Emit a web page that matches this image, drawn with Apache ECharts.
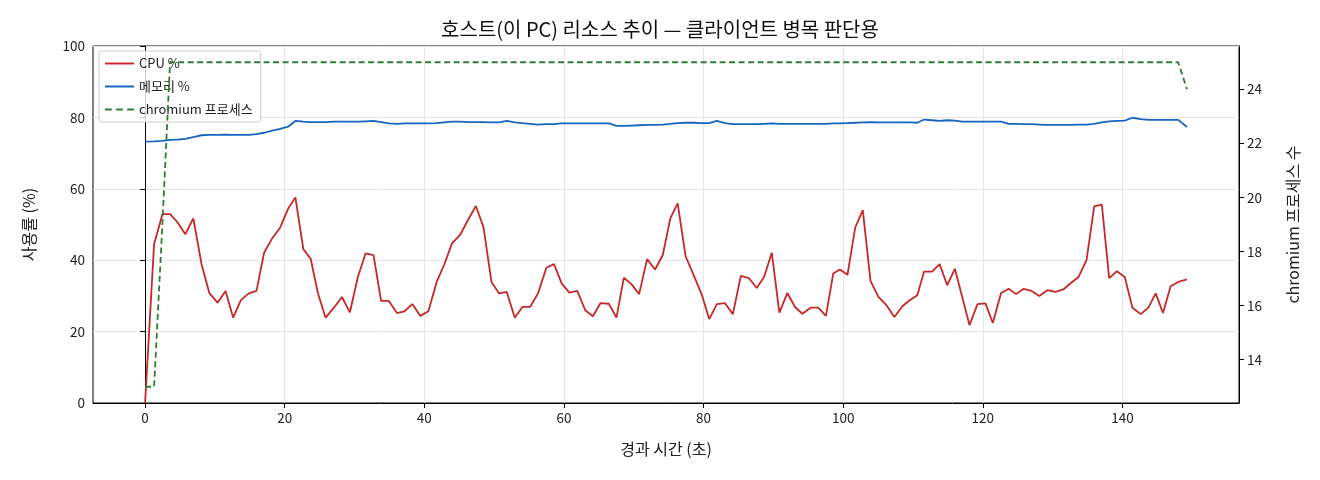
<!DOCTYPE html>
<html>
<head>
<meta charset="utf-8">
<script src="https://cdn.jsdelivr.net/npm/echarts@6/dist/echarts.min.js"></script>
<style>
  html, body { margin: 0; padding: 0; background: #fff; }
  #chart { width: 1320px; height: 480px; }
</style>
</head>
<body>
<div id="chart"></div>
<script>
// elapsed time (s) of each sample
const times = [
  0, 1.29, 2.48, 3.58, 4.62, 5.77, 6.91, 8.10, 9.20, 10.39,
  11.53, 12.62, 13.72, 14.86, 15.96, 17.05, 18.20, 19.34, 20.48, 21.53,
  22.67, 23.72, 24.77, 25.86, 27.05, 28.20, 29.34, 30.48, 31.58, 32.72,
  33.81, 34.91, 36.10, 37.15, 38.29, 39.43, 40.58, 41.77, 42.86, 43.96,
  45.10, 46.29, 47.39, 48.48, 49.62, 50.72, 51.81, 52.96, 54.05, 55.15,
  56.29, 57.48, 58.58, 59.67, 60.77, 61.91, 63.05, 64.15, 65.24, 66.43,
  67.53, 68.58, 69.67, 70.77, 71.91, 73.05, 74.15, 75.24, 76.29, 77.43,
  78.58, 79.77, 80.81, 81.91, 83.05, 84.20, 85.34, 86.48, 87.62, 88.67,
  89.77, 90.86, 92.00, 93.10, 94.15, 95.34, 96.43, 97.53, 98.58, 99.53,
  100.62, 101.72, 102.81, 103.91, 105.05, 106.20, 107.34, 108.48, 109.53, 110.62,
  111.58, 112.72, 113.81, 114.91, 116.00, 117.05, 118.10, 119.24, 120.39, 121.43,
  122.62, 123.72, 124.77, 125.86, 127.00, 128.10, 129.24, 130.39, 131.53, 132.62,
  133.72, 134.86, 135.96, 137.05, 138.10, 139.20, 140.34, 141.43, 142.62, 143.72,
  144.77, 145.81, 146.91, 148.00, 149.24
];

const cpuPct = [
  0, 44.5, 52.9, 52.9, 50.7, 47.3, 51.7, 38.8, 30.8, 28.1,
  31.4, 23.9, 28.8, 30.7, 31.4, 42.1, 46.1, 49.1, 54.4, 57.6,
  43.1, 40.4, 30.7, 23.9, 26.7, 29.7, 25.4, 35.3, 41.9, 41.4,
  28.6, 28.6, 25.2, 25.7, 27.7, 24.4, 25.7, 33.9, 38.8, 44.7,
  47.0, 51.4, 55.2, 49.2, 33.9, 30.7, 31.1, 23.9, 26.9, 26.9,
  30.7, 37.9, 38.9, 33.5, 30.9, 31.4, 26.0, 24.3, 28.0, 27.8,
  23.9, 35.1, 33.3, 30.5, 40.3, 37.4, 41.4, 51.7, 55.9, 41.1,
  35.8, 30.2, 23.5, 27.7, 28.0, 24.9, 35.6, 35.0, 32.2, 35.3,
  42.1, 25.3, 30.8, 26.9, 25.0, 26.7, 26.7, 24.4, 36.3, 37.4,
  35.9, 49.1, 54.0, 34.2, 29.7, 27.4, 24.1, 27.1, 28.8, 30.2,
  36.8, 36.8, 38.9, 33.0, 37.6, 29.7, 21.8, 27.7, 27.9, 22.4,
  30.8, 32.0, 30.5, 32.0, 31.4, 30.0, 31.6, 31.1, 31.8, 33.6,
  35.3, 40.0, 55.1, 55.6, 35.0, 36.9, 35.3, 26.7, 24.9, 26.7,
  30.7, 25.2, 32.7, 33.9, 34.6
];

const memPct = [
  73.2, 73.3, 73.4, 73.7, 73.8, 74.0, 74.5, 75.0, 75.1, 75.1,
  75.2, 75.1, 75.1, 75.1, 75.3, 75.7, 76.3, 76.8, 77.4, 79.0,
  78.8, 78.7, 78.7, 78.7, 78.8, 78.8, 78.8, 78.8, 78.9, 79.0,
  78.7, 78.3, 78.2, 78.3, 78.3, 78.3, 78.3, 78.4, 78.6, 78.8,
  78.8, 78.7, 78.7, 78.7, 78.6, 78.6, 79.0, 78.6, 78.4, 78.2,
  78.0, 78.1, 78.1, 78.3, 78.3, 78.3, 78.3, 78.3, 78.3, 78.3,
  77.6, 77.6, 77.7, 77.8, 77.9, 77.9, 78.0, 78.2, 78.4, 78.5,
  78.5, 78.4, 78.4, 79.0, 78.4, 78.1, 78.1, 78.1, 78.1, 78.2,
  78.3, 78.2, 78.2, 78.2, 78.2, 78.2, 78.2, 78.2, 78.3, 78.3,
  78.4, 78.5, 78.6, 78.7, 78.6, 78.6, 78.6, 78.6, 78.6, 78.5,
  79.4, 79.2, 79.0, 79.2, 79.1, 78.8, 78.8, 78.8, 78.8, 78.8,
  78.8, 78.2, 78.2, 78.1, 78.1, 78.0, 77.9, 77.9, 77.9, 77.9,
  78.0, 78.0, 78.2, 78.6, 78.9, 79.0, 79.1, 79.9, 79.5, 79.3,
  79.3, 79.3, 79.3, 79.3, 77.3
];

const chromiumProcs = [
  13, 13, 19, 25, 25, 25, 25, 25, 25, 25,
  25, 25, 25, 25, 25, 25, 25, 25, 25, 25,
  25, 25, 25, 25, 25, 25, 25, 25, 25, 25,
  25, 25, 25, 25, 25, 25, 25, 25, 25, 25,
  25, 25, 25, 25, 25, 25, 25, 25, 25, 25,
  25, 25, 25, 25, 25, 25, 25, 25, 25, 25,
  25, 25, 25, 25, 25, 25, 25, 25, 25, 25,
  25, 25, 25, 25, 25, 25, 25, 25, 25, 25,
  25, 25, 25, 25, 25, 25, 25, 25, 25, 25,
  25, 25, 25, 25, 25, 25, 25, 25, 25, 25,
  25, 25, 25, 25, 25, 25, 25, 25, 25, 25,
  25, 25, 25, 25, 25, 25, 25, 25, 25, 25,
  25, 25, 25, 25, 25, 25, 25, 25, 25, 25,
  25, 25, 25, 25, 24
];

const xTicks = [0, 20, 40, 60, 80, 100, 120, 140];
const procTicks = [14, 16, 18, 20, 22, 24];

const FONT = '"Noto Sans CJK KR", "Noto Sans", sans-serif';
const TXT = '#222';
const RED = '#c62828', BLUE = '#1565c0', GREEN = '#2e7d32';

// legend samples: a solid stroke and a dashed stroke
const SOLID_ICON = 'path://M0,0h30v2h-30z';
const DASH_ICON = 'path://M0,0h7v2h-7z M11.5,0h7v2h-7z M23,0h7v2h-7z';

const chart = echarts.init(document.getElementById('chart'));

const pairs = (ys) => times.map((t, i) => [t, ys[i]]);

chart.setOption({
  animation: false,
  textStyle: { fontFamily: FONT },
  title: {
    text: '호스트(이 PC) 리소스 추이 — 클라이언트 병목 판단용',
    left: 'center',
    top: 14,
    textStyle: { fontFamily: FONT, fontSize: 20, fontWeight: 'normal', color: '#111' }
  },
  legend: {
    orient: 'vertical',
    left: 99,
    top: 51,
    itemWidth: 29,
    itemHeight: 2,
    itemGap: 10,
    padding: [6, 8, 6, 6],
    backgroundColor: 'rgba(255,255,255,0.8)',
    borderColor: '#cccccc',
    borderWidth: 1,
    borderRadius: 3,
    textStyle: { fontFamily: FONT, fontSize: 13, color: TXT },
    data: [
      { name: 'CPU %', icon: SOLID_ICON },
      { name: '메모리 %', icon: SOLID_ICON },
      { name: 'chromium 프로세스', icon: DASH_ICON }
    ]
  },
  grid: {
    left: 93, right: 81, top: 46, bottom: 77,
    show: true, borderColor: '#000', borderWidth: 1
  },
  xAxis: {
    type: 'value',
    min: -7.46,
    max: 156.7,
    name: '경과 시간 (초)',
    nameLocation: 'middle',
    nameGap: 38,
    nameTextStyle: { fontFamily: FONT, fontSize: 16, color: TXT },
    axisLine: { show: true, lineStyle: { color: '#000', width: 1 } },
    axisTick: { show: true, length: 5, customValues: xTicks, lineStyle: { color: '#000' } },
    axisLabel: { customValues: xTicks, fontSize: 13.5, color: TXT, margin: 8 },
    splitLine: { show: true, lineStyle: { color: '#e6e6e6', width: 1 } }
  },
  yAxis: [
    {
      type: 'value',
      min: 0,
      max: 100,
      interval: 20,
      name: '사용률 (%)',
      nameLocation: 'middle',
      nameRotate: 90,
      nameGap: 56,
      nameTextStyle: { fontFamily: FONT, fontSize: 16, color: TXT },
      axisLine: { show: true, lineStyle: { color: '#000', width: 1 } },
      axisTick: { show: true, length: 5, lineStyle: { color: '#000' } },
      axisLabel: { fontSize: 13.5, color: TXT, margin: 8 },
      splitLine: { show: true, lineStyle: { color: '#e6e6e6', width: 1 } }
    },
    {
      type: 'value',
      position: 'right',
      min: 12.4,
      max: 25.6,
      name: 'chromium 프로세스 수',
      nameLocation: 'middle',
      nameRotate: 90,
      nameGap: 46,
      nameTextStyle: { fontFamily: FONT, fontSize: 16, color: TXT },
      axisLine: { show: true, lineStyle: { color: '#000', width: 1 } },
      axisTick: { show: true, length: 5, customValues: procTicks, lineStyle: { color: '#000' } },
      axisLabel: { customValues: procTicks, fontSize: 13.5, color: TXT, margin: 8 },
      splitLine: { show: false }
    }
  ],
  series: [
    {
      name: 'CPU %',
      type: 'line',
      yAxisIndex: 0,
      data: pairs(cpuPct),
      symbol: 'none',
      lineStyle: { color: RED, width: 1.8 },
      itemStyle: { color: RED },
      z: 2
    },
    {
      name: '메모리 %',
      type: 'line',
      yAxisIndex: 0,
      data: pairs(memPct),
      symbol: 'none',
      lineStyle: { color: BLUE, width: 1.8 },
      itemStyle: { color: BLUE },
      z: 2
    },
    {
      // drawn above the legend box, like the twin axis in the original
      name: 'chromium 프로세스',
      type: 'line',
      yAxisIndex: 1,
      data: pairs(chromiumProcs),
      symbol: 'none',
      lineStyle: { color: GREEN, width: 1.8, type: [6, 3.5] },
      itemStyle: { color: GREEN },
      z: 6
    }
  ]
});
</script>
</body>
</html>
